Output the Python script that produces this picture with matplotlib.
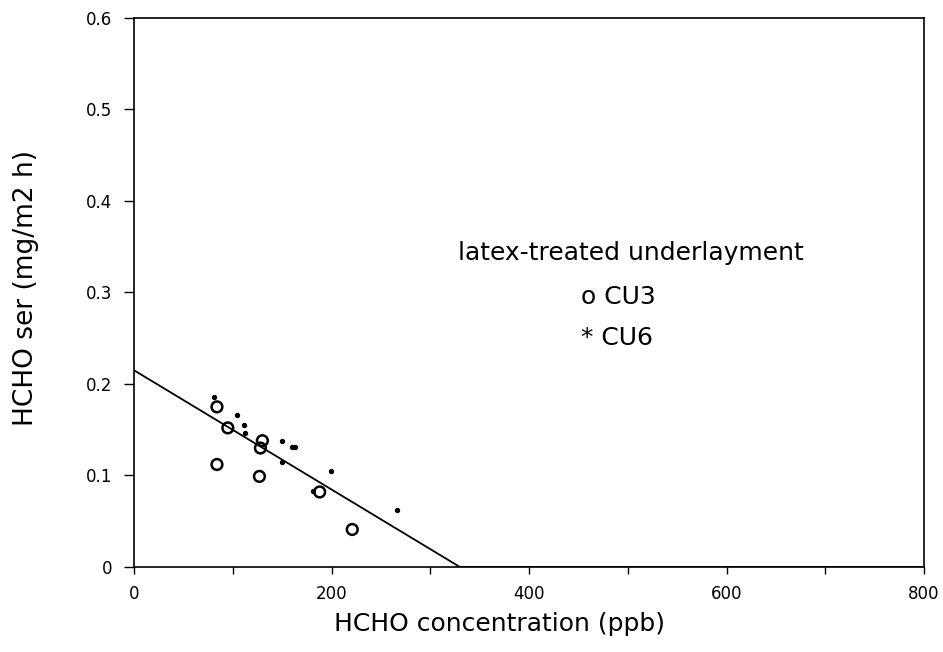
import numpy as np
import matplotlib
matplotlib.use("Agg")
import matplotlib.pyplot as plt

plt.rcParams['font.family'] = ['DejaVu Sans']

# CU3 (open circles)
cu3_x = [84, 95, 130, 128, 84, 127, 188, 221]
cu3_y = [0.175, 0.152, 0.138, 0.130, 0.112, 0.099, 0.082, 0.041]
# CU6 (dots)
cu6_x = [81, 104, 111, 112, 150, 160, 163, 150, 199, 181, 266]
cu6_y = [0.186, 0.166, 0.155, 0.146, 0.138, 0.131, 0.131, 0.115, 0.105, 0.083, 0.062]
# regression line
fit_x = [0, 330, 800]
fit_y = [0.215, 0.0, 0.0]

fig = plt.figure(figsize=(9.43, 6.52), dpi=100)
ax = fig.add_axes([0.1421, 0.1304, 0.8378, 0.842])

ax.plot(fit_x, fit_y, color="black", lw=1.3)
ax.scatter(cu3_x, cu3_y, s=60, facecolors="none", edgecolors="black", linewidths=1.8)
ax.scatter(cu6_x, cu6_y, s=8, color="black")

ax.set_xlim(0, 800)
ax.set_ylim(0, 0.6)
ax.set_xticks([0, 200, 400, 600, 800])
ax.set_xticks([100, 300, 500, 700], minor=True)
ax.set_yticks([0, 0.1, 0.2, 0.3, 0.4, 0.5, 0.6])
ax.set_yticklabels(["0", "0.1", "0.2", "0.3", "0.4", "0.5", "0.6"])
ax.tick_params(axis="x", which="both", direction="out", length=5, width=1, labelsize=12, pad=8)
ax.tick_params(axis="y", direction="out", length=7.5, width=1, labelsize=12, pad=8)
for s in ax.spines.values():
    s.set_linewidth(1.2)

ax.set_xlabel("HCHO concentration (ppb)", fontsize=18)
ax.set_ylabel("HCHO ser (mg/m2 h)", fontsize=19)
ax.xaxis.set_label_coords(0.463, -0.082)
ax.yaxis.set_label_coords(-0.12, 0.509)

ax.text(503, 0.343, "latex-treated underlayment", fontsize=18, ha="center", va="center")
ax.text(453, 0.295, "o CU3", fontsize=18, ha="left", va="center")
ax.text(453, 0.250, "* CU6", fontsize=18, ha="left", va="center")

fig.savefig("out.png", dpi=100)
